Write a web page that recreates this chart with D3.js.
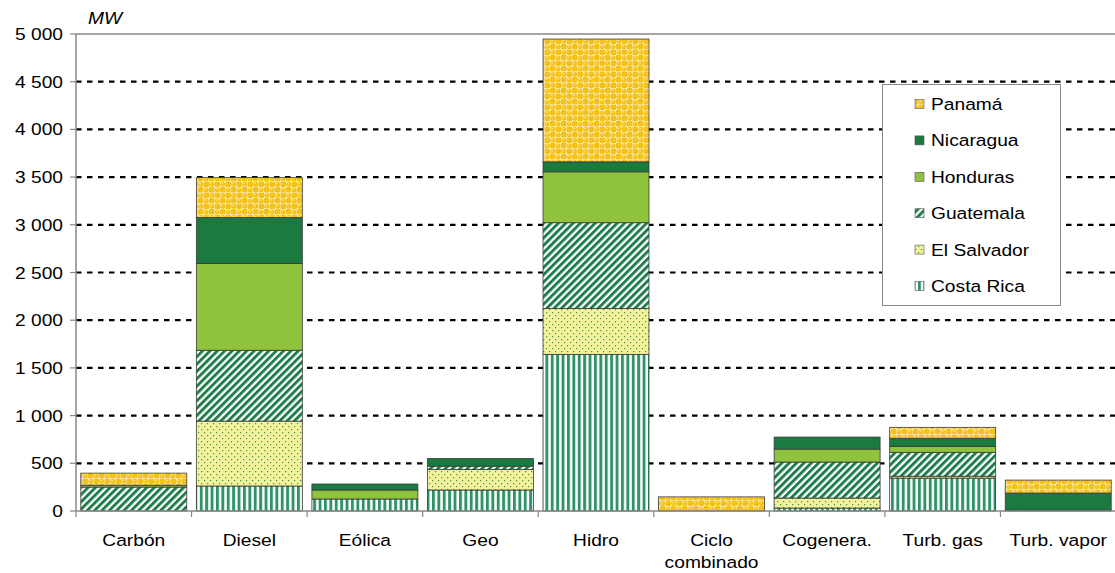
<!DOCTYPE html>
<html><head><meta charset="utf-8">
<script src="https://cdn.jsdelivr.net/npm/d3@7"></script>
<style>body{margin:0;background:#fff;} svg{display:block;font-family:"Liberation Sans",Arial,sans-serif;}</style>
</head><body>
<svg id="c" width="1115" height="573"></svg>
<script>
const categories = ["Carbón","Diesel","Eólica","Geo","Hidro","Ciclo combinado","Cogenera.","Turb. gas","Turb. vapor"];
const series = ["Costa Rica","El Salvador","Guatemala","Honduras","Nicaragua","Panamá"];
const costaRica  = [0, 262, 126, 220, 1642, 0, 31, 345, 0];
const elSalvador = [0, 680, 0, 215, 481, 0, 105, 20, 0];
const guatemala  = [251, 743, 0, 35, 899, 0, 377, 250, 10];
const honduras   = [20, 910, 94, 0, 533, 0, 136, 63, 0];
const nicaragua  = [0, 481, 63, 80, 105, 0, 126, 84, 178];
const panama     = [126, 418, 0, 0, 1287, 148, 0, 115, 136];
const yTicks = [0,500,1000,1500,2000,2500,3000,3500,4000,4500,5000];
const legendOrder = ["Panamá","Nicaragua","Honduras","Guatemala","El Salvador","Costa Rica"];

const seriesValues = [costaRica, elSalvador, guatemala, honduras, nicaragua, panama];
const table = categories.map((c,i)=>{const o={cat:c}; series.forEach((s,j)=>o[s]=seriesValues[j][i]); return o;});

const svg = d3.select("#c");
const defs = svg.append("defs");
function pat(id,w,h,build,tr){const p=defs.append("pattern").attr("id",id).attr("patternUnits","userSpaceOnUse").attr("width",w).attr("height",h); if(tr)p.attr("patternTransform",tr); build(p);}
pat("pCR",5.4,10,p=>{p.append("rect").attr("width",5.4).attr("height",10).attr("fill","#fff");p.append("rect").attr("width",2.9).attr("height",10).attr("fill","#2e9466");});
pat("pES",6,6,p=>{p.append("rect").attr("width",6).attr("height",6).attr("fill","#f2f29c");p.append("rect").attr("x",0).attr("y",0).attr("width",1.2).attr("height",1.2).attr("fill","#4a8f3c");p.append("rect").attr("x",3).attr("y",3).attr("width",1.2).attr("height",1.2).attr("fill","#4a8f3c");});
pat("pGU",5.2,10,p=>{p.append("rect").attr("width",5.2).attr("height",10).attr("fill","#fff");p.append("rect").attr("width",2.9).attr("height",10).attr("fill","#1f7d4a");},"rotate(45)");
pat("pPA",11,11,p=>{p.append("rect").attr("width",11).attr("height",11).attr("fill","#fff");
  p.append("rect").attr("width",5.5).attr("height",5.5).attr("fill","#f4c21c");p.append("rect").attr("x",5.5).attr("y",5.5).attr("width",5.5).attr("height",5.5).attr("fill","#f4c21c");
  p.append("circle").attr("cx",8.25).attr("cy",2.75).attr("r",2.6).attr("fill","#f4c21c");p.append("circle").attr("cx",2.75).attr("cy",8.25).attr("r",2.6).attr("fill","#f4c21c");
  p.append("circle").attr("cx",7.6).attr("cy",2.1).attr("r",0.9).attr("fill","#fbe38a");p.append("circle").attr("cx",2.1).attr("cy",7.6).attr("r",0.9).attr("fill","#fbe38a");});
const fills = {"Costa Rica":"url(#pCR)","El Salvador":"url(#pES)","Guatemala":"url(#pGU)","Honduras":"#8fc33d","Nicaragua":"#1a7a40","Panamá":"url(#pPA)"};

const X0=76, X1=1116, Y0=511, Y1=34;
const x = d3.scaleBand().domain(categories).range([X0,X1]).paddingInner(0.083).paddingOuter(0.0415);
const y = d3.scaleLinear().domain([0,5000]).range([Y0,Y1]);

function txt(g,xp,yp,s,anchor,extra){const t=g.append("text").attr("transform",`translate(${xp},${yp}) scale(1.13,1)`).attr("text-anchor",anchor||"start").attr("font-size",17).attr("fill","#000").text(s); if(extra)extra(t); return t;}

svg.append("g").selectAll("line").data(yTicks.filter(v=>v>0&&v<5000)).join("line")
  .attr("x1",X0).attr("x2",X1).attr("y1",d=>y(d)).attr("y2",d=>y(d))
  .attr("stroke","#000").attr("stroke-width",2.2).attr("stroke-dasharray","5.5,5.5");
svg.append("line").attr("x1",X0).attr("x2",X1).attr("y1",y(5000)).attr("y2",y(5000)).attr("stroke","#888").attr("stroke-width",1.5);

const stack = d3.stack().keys(series)(table);
const gb = svg.append("g");
stack.forEach(layer=>{
  gb.append("g").selectAll("rect").data(layer.filter(d=>d[1]-d[0]>0)).join("rect")
    .attr("x",d=>x(d.data.cat)).attr("width",x.bandwidth())
    .attr("y",d=>y(d[1])).attr("height",d=>y(d[0])-y(d[1]))
    .attr("fill",fills[layer.key]).attr("stroke","#3a3a3a").attr("stroke-width",0.8);
});

const ya = svg.append("g");
ya.append("line").attr("x1",X0).attr("x2",X0).attr("y1",Y1).attr("y2",Y0).attr("stroke","#888").attr("stroke-width",1.5);
ya.selectAll("line.t").data(yTicks).join("line").attr("class","t").attr("x1",X0-6).attr("x2",X0).attr("y1",d=>y(d)).attr("y2",d=>y(d)).attr("stroke","#888").attr("stroke-width",1.2);
yTicks.forEach(v=>{ const s = v>=1000 ? Math.floor(v/1000)+" "+String(v%1000).padStart(3,"0") : String(v); txt(ya,63,y(v)+6,s,"end"); });
txt(svg,88,24,"MW","start",t=>t.attr("font-style","italic"));

const xa = svg.append("g");
xa.append("line").attr("x1",X0).attr("x2",X1).attr("y1",Y0).attr("y2",Y0).attr("stroke","#888").attr("stroke-width",1.5);
const bounds = categories.map(c=>x(c)-x.step()*x.paddingInner()/2).concat([X1]);
xa.selectAll("line.t").data(bounds).join("line").attr("class","t").attr("x1",d=>d).attr("x2",d=>d).attr("y1",Y0).attr("y2",Y0+6).attr("stroke","#888").attr("stroke-width",1.2);
categories.forEach(c=>{
  const cx = x(c)+x.bandwidth()/2;
  if(c==="Ciclo combinado"){ txt(xa,cx,546,"Ciclo","middle"); txt(xa,cx,568,"combinado","middle"); }
  else txt(xa,cx,546,c,"middle");
});

const lg = svg.append("g");
lg.append("rect").attr("x",882.5).attr("y",84.5).attr("width",178).attr("height",221).attr("fill","#fff").attr("stroke","#888").attr("stroke-width",1);
legendOrder.forEach((s,i)=>{
  const cy = 104 + i*36.4;
  lg.append("rect").attr("x",915).attr("y",cy-4.5).attr("width",9).attr("height",9).attr("fill",fills[s]).attr("stroke","#555").attr("stroke-width",0.6);
  txt(lg,931,cy+6,s,"start");
});
</script>
</body></html>
